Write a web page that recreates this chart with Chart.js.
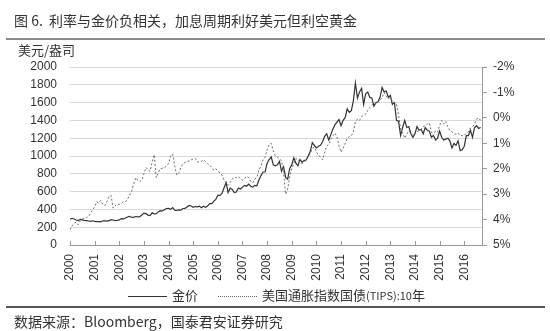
<!DOCTYPE html>
<html>
<head>
<meta charset="utf-8">
<script src="https://cdn.jsdelivr.net/npm/chart.js@4.4.1/dist/chart.umd.min.js"></script>
<style>
  body { margin: 0; background: #fff; }
  #wrap { position: relative; width: 550px; height: 331px; overflow: hidden;
          font-family: "Noto Sans CJK SC", "Liberation Sans", sans-serif; color: #333; }
  #chart { position: absolute; left: 0; top: 0; }
  .title { position: absolute; left: 14px; top: 10px; font-size: 14px; line-height: 20px; white-space: nowrap; }
  .rule { position: absolute; left: 6px; width: 539px; }
  .unit { position: absolute; left: 18px; top: 42px; font-size: 13px; line-height: 16px; }
  .legend { position: absolute; top: 287px; font-size: 13px; line-height: 16px; white-space: nowrap; }
  .legend .ln { display: inline-block; vertical-align: middle; width: 39px; margin-right: 5px; }
  .legend small { font-size: 11px; }
  .source { position: absolute; left: 14px; top: 312px; font-size: 14px; line-height: 18px; white-space: nowrap; }
</style>
</head>
<body>
<div id="wrap">
  <canvas id="chart" width="550" height="331"></canvas>
  <div class="title">图 6.&nbsp; 利率与金价负相关，加息周期利好美元但利空黄金</div>
  <div class="rule" style="top:38px;height:2px;background:#8a8a8a"></div>
  <div class="unit">美元/盎司</div>
  <div class="legend" style="left:128px"><span class="ln" style="border-top:1.3px solid #333"></span>金价</div>
  <div class="legend" style="left:218px"><span class="ln" style="border-top:1px dotted #666"></span>美国通胀指数国债<small>(TIPS):10</small>年</div>
  <div class="rule" style="top:306px;height:2px;background:#555"></div>
  <div class="source">数据来源：Bloomberg，国泰君安证券研究</div>
</div>
<script>
// 月度数据，从 2000 年 1 月到 2016 年 9 月
const startYear = 2000;
const endYear = 2016.72;
const yearTicks = [2000, 2001, 2002, 2003, 2004, 2005, 2006, 2007, 2008,
                   2009, 2010, 2011, 2012, 2013, 2014, 2015, 2016];

// 金价（美元/盎司）
const goldPrice = [
  289, 300, 292, 281, 275, 287, 282, 276, 273, 270, 266, 272,
  266, 262, 263, 260, 272, 270, 268, 273, 284, 281, 275, 277,
  282, 297, 293, 303, 314, 322, 312, 310, 320, 316, 319, 338,
  358, 352, 336, 330, 361, 350, 352, 372, 385, 382, 396, 410,
  412, 400, 420, 390, 388, 395, 392, 410, 412, 428, 445, 438,
  424, 432, 428, 436, 418, 436, 424, 438, 465, 464, 490, 512,
  560, 555, 580, 640, 700, 590, 640, 625, 590, 595, 640, 630,
  650, 670, 660, 685, 660, 650, 670, 665, 730, 780, 820, 820,
  920, 960, 990, 900, 890, 900, 940, 830, 880, 760, 740, 860,
  900, 980, 920, 890, 960, 930, 950, 955, 1000, 1050, 1150, 1120,
  1090, 1110, 1120, 1160, 1220, 1250, 1180, 1240, 1300, 1350, 1380, 1410,
  1340, 1400, 1430, 1530, 1490, 1510, 1620, 1820, 1650, 1720, 1760, 1580,
  1700, 1720, 1660, 1650, 1560, 1600, 1610, 1660, 1770, 1720, 1730, 1660,
  1680, 1580, 1600, 1400, 1390, 1230, 1320, 1400, 1320, 1330, 1250, 1210,
  1250, 1330, 1290, 1300, 1250, 1320, 1290, 1280, 1210, 1230, 1180, 1200,
  1280, 1210, 1180, 1190, 1200, 1170, 1090, 1140, 1120, 1170, 1060, 1070,
  1110, 1230, 1230, 1290, 1210, 1320, 1340, 1310, 1320
];

// 10 年期 TIPS 收益率（%，右轴反向）
const tipsYield = [
  4.40, 4.25, 4.15, 4.10, 4.20, 4.05, 3.98, 3.95, 3.92, 3.88, 3.75, 3.62,
  3.50, 3.30, 3.35, 3.25, 3.40, 3.45, 3.30, 3.10, 3.05, 3.55, 3.45, 3.40,
  3.40, 3.35, 3.30, 3.30, 3.20, 3.05, 2.90, 2.60, 2.35, 2.45, 2.50, 2.45,
  2.20, 1.95, 2.05, 2.10, 1.75, 1.45, 2.35, 2.15, 2.00, 1.98, 1.95, 1.90,
  1.80, 1.50, 1.42, 1.90, 2.25, 2.15, 1.95, 1.80, 1.75, 1.72, 1.70, 1.65,
  1.62, 1.60, 1.72, 1.75, 1.70, 1.65, 1.72, 1.80, 1.85, 1.95, 2.05, 2.00,
  2.10, 2.15, 2.25, 2.45, 2.55, 2.65, 2.55, 2.40, 2.35, 2.35, 2.30, 2.40,
  2.45, 2.40, 2.30, 2.35, 2.50, 2.55, 2.40, 2.35, 2.05, 1.90, 1.65, 1.55,
  1.25, 1.05, 1.00, 1.30, 1.50, 1.55, 1.60, 1.70, 2.10, 3.00, 2.80, 2.30,
  2.00, 1.80, 1.60, 1.65, 1.75, 1.80, 1.75, 1.65, 1.55, 1.40, 1.20, 1.15,
  1.35, 1.45, 1.55, 1.65, 1.35, 1.10, 1.05, 0.85, 0.70, 0.60, 0.75, 1.10,
  1.35, 1.20, 1.00, 0.80, 0.75, 0.70, 0.55, 0.15, 0.05, 0.10, -0.05, -0.10,
  -0.15, -0.30, -0.40, -0.50, -0.60, -0.55, -0.65, -0.70, -0.80, -1.00, -0.85, -0.75,
  -0.80, -0.65, -0.60, -0.55, -0.10, 0.45, 0.60, 0.80, 0.65, 0.50, 0.60, 0.70,
  0.60, 0.55, 0.50, 0.45, 0.35, 0.30, 0.25, 0.20, 0.55, 0.70, 0.50, 0.55,
  0.30, 0.10, 0.25, 0.15, 0.35, 0.50, 0.55, 0.60, 0.65, 0.60, 0.70, 0.70,
  0.70, 0.60, 0.55, 0.40, 0.35, 0.25, 0.05, 0.00, 0.10
];

const toPoints = arr => arr.map((v, i) => ({ x: startYear + i / 12, y: v }));

const tickFont = { family: '"Liberation Sans", Arial, sans-serif', size: 12 };

// x 轴刻度线朝内（向上）
const innerTicks = {
  id: 'innerTicks',
  afterDraw(chart) {
    const { ctx, chartArea } = chart;
    const xs = chart.scales.x;
    ctx.save();
    ctx.strokeStyle = '#999';
    ctx.lineWidth = 1;
    yearTicks.forEach(y => {
      const px = Math.round(xs.getPixelForValue(y)) + 0.5;
      ctx.beginPath();
      ctx.moveTo(px, chartArea.bottom);
      ctx.lineTo(px, chartArea.bottom - 4);
      ctx.stroke();
    });
    ctx.restore();
  }
};

new Chart(document.getElementById('chart'), {
  type: 'line',
  data: {
    datasets: [
      {
        label: '美国通胀指数国债(TIPS):10年',
        data: toPoints(tipsYield),
        yAxisID: 'y2',
        borderColor: '#6a6a6a',
        borderWidth: 1,
        borderDash: [2, 2],
        pointRadius: 0
      },
      {
        label: '金价',
        data: toPoints(goldPrice),
        yAxisID: 'y',
        borderColor: '#333',
        borderWidth: 1.2,
        pointRadius: 0
      }
    ]
  },
  options: {
    responsive: false,
    animation: false,
    layout: { padding: { top: 67, bottom: 41, left: 0, right: 0 } },
    plugins: { legend: { display: false }, tooltip: { enabled: false } },
    scales: {
      x: {
        type: 'linear',
        min: startYear,
        max: endYear,
        afterBuildTicks: scale => { scale.ticks = yearTicks.map(v => ({ value: v })); },
        afterFit: scale => { scale.height = 45; },
        ticks: {
          includeBounds: false,
          autoSkip: false,
          minRotation: 90,
          maxRotation: 90,
          padding: 9,
          color: '#333',
          font: tickFont,
          callback: v => String(v)
        },
        grid: { drawOnChartArea: false, drawTicks: false },
        border: { color: '#999' }
      },
      y: {
        position: 'left',
        min: 0,
        max: 2000,
        afterFit: scale => { scale.width = 70; },
        ticks: { stepSize: 200, padding: 13, color: '#333', font: tickFont, callback: v => String(v) },
        grid: { color: '#d9d9d9', drawTicks: false },
        border: { display: false }
      },
      y2: {
        position: 'right',
        reverse: true,
        min: -2,
        max: 5,
        afterFit: scale => { scale.width = 68; },
        ticks: { stepSize: 1, padding: 6, color: '#333', font: tickFont, callback: v => v + '%' },
        grid: { drawOnChartArea: false, tickLength: 5, color: '#999' },
        border: { color: '#999' }
      }
    }
  },
  plugins: [innerTicks]
});
</script>
</body>
</html>
